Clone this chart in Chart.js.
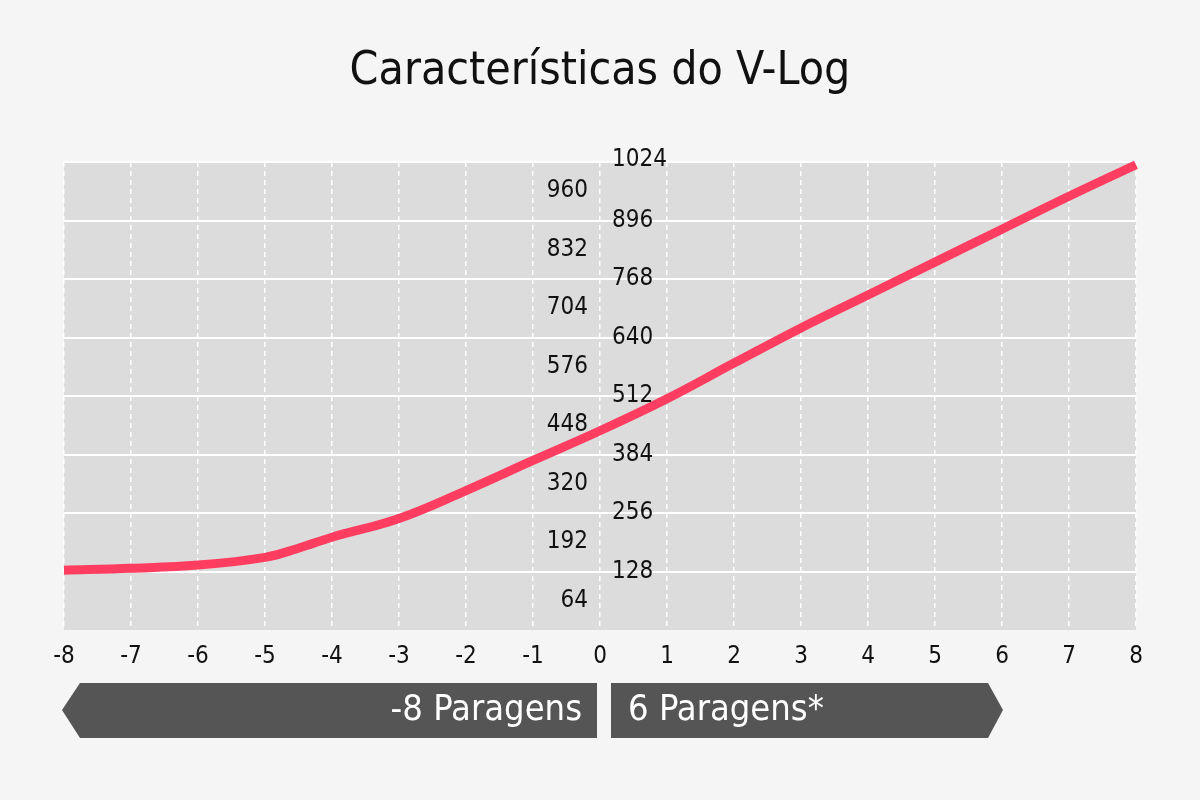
<!DOCTYPE html>
<html><head><meta charset="utf-8">
<script src="https://cdn.jsdelivr.net/npm/chart.js@4/dist/chart.umd.min.js"></script>
<style>html,body{margin:0;background:#f5f5f5}#w{width:1200px;height:800px}</style>
</head><body><div id="w"><canvas id="c" width="1200" height="800"></canvas></div>
<script>
const stops = [-8,-7,-6,-5,-4.5,-4,-3,-2,-1,0,1,2,3,4,5,6,7,8];
const codeValues = [131,135,142,159,179,203,244,305,371,436,506,584,661,733,805,877,949,1018];
const rightTicks = [128,256,384,512,640,768,896,1024];
const leftTicks = [64,192,320,448,576,704,832,960];
const xTicks = [-8,-7,-6,-5,-4,-3,-2,-1,0,1,2,3,4,5,6,7,8];
const title = 'Características do V-Log';
const leftLabel = '-8 Paragens';
const rightLabel = '6 Paragens*';
const FONT = '"Liberation Sans Narrow","DejaVu Sans Condensed",sans-serif';

const deco = {
  id:'deco',
  beforeDraw(ch){
    const {ctx, chartArea:a} = ch;
    ctx.save();
    ctx.fillStyle='#f5f5f5';ctx.fillRect(0,0,1200,800);
    ctx.fillStyle='#dcdcdc';ctx.fillRect(a.left,a.top,a.right-a.left,a.bottom-a.top);
    ctx.restore();
  },
  afterDraw(ch){
    const {ctx} = ch; const x = ch.scales.x, y = ch.scales.y;
    ctx.save();
    ctx.fillStyle='#111';ctx.textAlign='center';ctx.textBaseline='middle';
    ctx.font='46px '+FONT;ctx.fillText(title,600,72);
    const cx = x.getPixelForValue(0);
    ctx.font='24px '+FONT;
    ctx.textAlign='right';
    leftTicks.forEach(v=>ctx.fillText(String(v),cx-12,y.getPixelForValue(v)));
    ctx.textAlign='left';
    rightTicks.forEach(v=>ctx.fillText(String(v),cx+12,y.getPixelForValue(v)+(v===1024?-2:0)));
    // banners
    ctx.fillStyle='#555555';
    ctx.beginPath();ctx.moveTo(62,710);ctx.lineTo(80,683);ctx.lineTo(597,683);ctx.lineTo(597,738);ctx.lineTo(80,738);ctx.closePath();ctx.fill();
    ctx.beginPath();ctx.moveTo(611,683);ctx.lineTo(988,683);ctx.lineTo(1003,710);ctx.lineTo(988,738);ctx.lineTo(611,738);ctx.closePath();ctx.fill();
    ctx.fillStyle='#fff';ctx.font='36px '+FONT;
    ctx.textAlign='right';ctx.fillText(leftLabel,582,711);
    ctx.textAlign='left';ctx.fillText(rightLabel,628,711);
    ctx.restore();
  }
};

new Chart(document.getElementById('c'),{
  type:'scatter',
  data:{datasets:[{data:stops.map((s,i)=>({x:s,y:codeValues[i]})),showLine:true,borderColor:'#ff3d60',borderWidth:9,pointRadius:0,tension:0.4,borderCapStyle:'butt',clip:false}]},
  options:{
    responsive:false,animation:false,devicePixelRatio:1,
    layout:{padding:{left:64,right:64,top:162,bottom:130}},
    plugins:{legend:{display:false},tooltip:{enabled:false}},
    scales:{
      x:{type:'linear',min:-8,max:8,
        afterBuildTicks:s=>{s.ticks=xTicks.map(v=>({value:v}));},
        afterFit:s=>{s.height=40;},
        grid:{color:'#ffffff',lineWidth:1.5,drawTicks:false},
        border:{display:false,dash:[5,4]},
        ticks:{color:'#111',font:{family:FONT,size:24},padding:12}},
      y:{type:'linear',min:0,max:1024,
        afterBuildTicks:s=>{s.ticks=rightTicks.map(v=>({value:v}));},
        afterFit:s=>{s.width=0;},
        grid:{color:'#ffffff',lineWidth:2,drawTicks:false},
        border:{display:false},
        ticks:{display:false}}
    }
  },
  plugins:[deco]
});
</script></body></html>
